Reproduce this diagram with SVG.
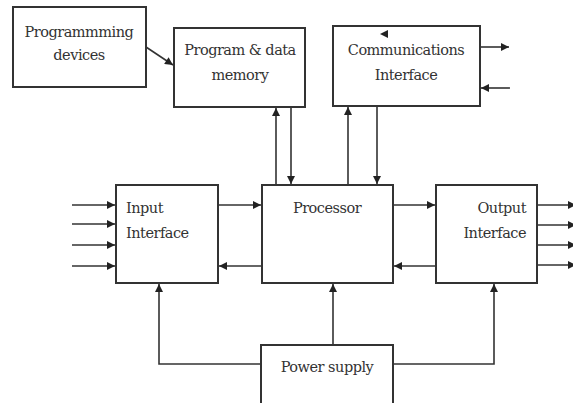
<svg xmlns="http://www.w3.org/2000/svg" width="573" height="403" viewBox="0 0 573 403">
<style>
.box{fill:#fff;stroke:#333;stroke-width:2}
.ln{fill:none;stroke:#333;stroke-width:1.6}
text{font-family:"DejaVu Serif","Liberation Serif",serif;font-size:14.5px;fill:#333;letter-spacing:-0.5px}
.c{text-anchor:middle}
.e{text-anchor:end}
</style>
<defs>
<marker id="ah" viewBox="0 0 10 10" refX="10" refY="5" markerWidth="9" markerHeight="8" markerUnits="userSpaceOnUse" orient="auto"><path d="M0,0 L10,5 L0,10 z" fill="#222"/></marker>
</defs>
<rect width="573" height="403" fill="#fff"/>
<g id="connectors">
<path class="ln" d="M146,47 L173,65" marker-end="url(#ah)"/>
<path class="ln" d="M276,185 L276,108" marker-end="url(#ah)"/>
<path class="ln" d="M291,107 L291,184" marker-end="url(#ah)"/>
<path class="ln" d="M348,185 L348,107" marker-end="url(#ah)"/>
<path class="ln" d="M377,106 L377,184" marker-end="url(#ah)"/>
<path class="ln" d="M480,47 L509,47" marker-end="url(#ah)"/>
<path class="ln" d="M510,88 L481,88" marker-end="url(#ah)"/>
<path class="ln" d="M72,205 L115,205" marker-end="url(#ah)"/>
<path class="ln" d="M72,224 L115,224" marker-end="url(#ah)"/>
<path class="ln" d="M72,245 L115,245" marker-end="url(#ah)"/>
<path class="ln" d="M72,266 L115,266" marker-end="url(#ah)"/>
<path class="ln" d="M218,205 L261,205" marker-end="url(#ah)"/>
<path class="ln" d="M262,266 L219,266" marker-end="url(#ah)"/>
<path class="ln" d="M393,205 L435,205" marker-end="url(#ah)"/>
<path class="ln" d="M436,266 L394,266" marker-end="url(#ah)"/>
<path class="ln" d="M537,205 L576,205" marker-end="url(#ah)"/>
<path class="ln" d="M537,225 L576,225" marker-end="url(#ah)"/>
<path class="ln" d="M537,245 L576,245" marker-end="url(#ah)"/>
<path class="ln" d="M537,265 L576,265" marker-end="url(#ah)"/>
<path class="ln" d="M261,364 L159,364 L159,284" marker-end="url(#ah)"/>
<path class="ln" d="M333,345 L333,284" marker-end="url(#ah)"/>
<path class="ln" d="M393,364 L494,364 L494,284" marker-end="url(#ah)"/>
</g>
<g id="programming-devices">
<rect class="box" x="13" y="7" width="133" height="80"/>
<text class="c" x="79" y="37">Programmming</text>
<text class="c" x="79" y="60">devices</text>
</g>
<g id="memory">
<rect class="box" x="174" y="28" width="131" height="79"/>
<text class="c" x="240" y="55">Program &amp; data</text>
<text class="c" x="240" y="80">memory</text>
</g>
<g id="comms">
<rect class="box" x="333" y="26" width="147" height="80"/>
<path d="M380,34 L388,30 L388,38 z" fill="#222"/>
<text class="c" x="406" y="55">Communications</text>
<text class="c" x="406" y="80">Interface</text>
</g>
<g id="input">
<rect class="box" x="116" y="185" width="102" height="98"/>
<text x="126" y="213">Input</text>
<text x="126" y="238">Interface</text>
</g>
<g id="processor">
<rect class="box" x="262" y="185" width="131" height="98"/>
<text class="c" x="327" y="213">Processor</text>
</g>
<g id="output">
<rect class="box" x="436" y="185" width="101" height="98"/>
<text class="e" x="526" y="213">Output</text>
<text class="e" x="526" y="238">Interface</text>
</g>
<g id="power">
<rect class="box" x="261" y="345" width="132" height="62"/>
<text class="c" x="327" y="372">Power supply</text>
</g>
</svg>
